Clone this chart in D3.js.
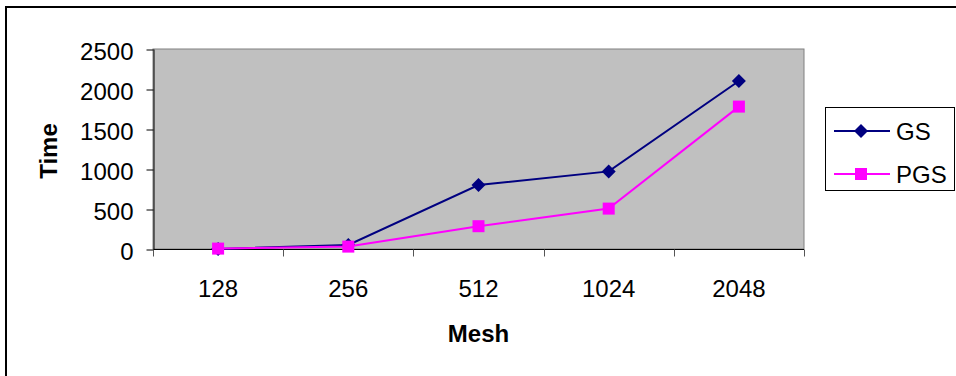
<!DOCTYPE html>
<html>
<head>
<meta charset="utf-8">
<script src="https://cdn.jsdelivr.net/npm/d3@7"></script>
<style>
  html, body { margin: 0; padding: 0; background: #fff; }
  svg { display: block; font-family: "Liberation Sans", Arial, sans-serif; }
</style>
</head>
<body>
<svg id="chart" width="956" height="376"></svg>
<script>
// Mesh sizes and solver run times
const meshSizes = ["128", "256", "512", "1024", "2048"];
const gsTimes   = [1, 50, 800, 970, 2100];
const pgsTimes  = [5, 30, 285, 505, 1780];
const yTicks    = [0, 500, 1000, 1500, 2000, 2500];
const seriesNames  = ["GS", "PGS"];
const seriesColors = ["#000080", "#FF00FF"];

const svg = d3.select("#chart");
const W = 956, H = 376;

// Outer frame
svg.append("rect")
  .attr("x", 6).attr("y", 7)
  .attr("width", W + 10).attr("height", H + 10)
  .attr("fill", "#fff").attr("stroke", "#000").attr("stroke-width", 2);

const plot = { left: 153, top: 49, right: 804, bottom: 249 };

const x = d3.scaleBand().domain(meshSizes).range([plot.left, plot.right]).padding(0);
const y = d3.scaleLinear().domain([0, 2500]).range([plot.bottom, plot.top]);

// Plot area
svg.append("rect")
  .attr("x", plot.left).attr("y", plot.top)
  .attr("width", plot.right - plot.left).attr("height", plot.bottom - plot.top)
  .attr("fill", "#C0C0C0").attr("stroke", "#808080").attr("stroke-width", 1);

// Y axis
const yAxis = svg.append("g")
  .attr("transform", `translate(${plot.left + 0.5},0)`)
  .call(d3.axisLeft(y).tickValues(yTicks).tickFormat(d3.format("d"))
    .tickSize(7).tickSizeOuter(0).tickPadding(13));
yAxis.select(".domain").attr("stroke", "#000");
yAxis.selectAll(".tick line").attr("stroke", "#000").attr("transform", "translate(0,0.5)");
yAxis.selectAll(".tick text")
  .attr("font-size", 24).attr("fill", "#000")
  .attr("font-family", "Liberation Sans, Arial, sans-serif")
  .attr("dy", "0.45em");

// X axis with ticks on category boundaries
const xAxisG = svg.append("g").attr("transform", `translate(0,${plot.bottom + 0.5})`);
xAxisG.append("line")
  .attr("x1", plot.left).attr("x2", plot.right)
  .attr("stroke", "#000");
const bounds = meshSizes.map(d => x(d)).concat([plot.right]);
xAxisG.selectAll("line.tick").data(bounds).join("line")
  .attr("class", "tick")
  .attr("x1", d => Math.round(d) + 0.5).attr("x2", d => Math.round(d) + 0.5)
  .attr("y1", 0).attr("y2", 7)
  .attr("stroke", "#555");
xAxisG.selectAll("text").data(meshSizes).join("text")
  .attr("x", d => x(d) + x.bandwidth() / 2)
  .attr("y", 47)
  .attr("text-anchor", "middle")
  .attr("font-size", 24)
  .text(d => d);

// Axis titles
svg.append("text")
  .attr("x", (plot.left + plot.right) / 2).attr("y", 342)
  .attr("text-anchor", "middle").attr("font-size", 24).attr("font-weight", "bold")
  .text("Mesh");
svg.append("text")
  .attr("transform", `translate(57,${(plot.top + plot.bottom) / 2 + 2}) rotate(-90)`)
  .attr("text-anchor", "middle").attr("font-size", 24).attr("font-weight", "bold")
  .text("Time");

// Series
const cx = d => x(d) + x.bandwidth() / 2;
const line = d3.line().x(d => cx(d[0])).y(d => y(d[1]));
const seriesData = [gsTimes, pgsTimes].map(vals => meshSizes.map((m, i) => [m, vals[i]]));

const diamond = (g, size) => g.append("path")
  .attr("d", `M0,${-size}L${size},0L0,${size}L${-size},0Z`);
const square = (g, size) => g.append("rect")
  .attr("x", -size).attr("y", -size).attr("width", 2 * size).attr("height", 2 * size);

seriesData.forEach((data, si) => {
  const color = seriesColors[si];
  svg.append("path").datum(data)
    .attr("d", line).attr("fill", "none")
    .attr("stroke", color).attr("stroke-width", 2);
  data.forEach(d => {
    const g = svg.append("g").attr("transform", `translate(${cx(d[0])},${y(d[1])})`).attr("fill", color);
    if (si === 0) diamond(g, 7); else square(g, 6);
  });
});

// Legend
const legend = svg.append("g");
legend.append("rect")
  .attr("x", 825.5).attr("y", 107.5).attr("width", 129).attr("height", 83)
  .attr("fill", "#fff").attr("stroke", "#000").attr("stroke-width", 1);
const legendY = [131, 174];
seriesNames.forEach((name, i) => {
  const ly = legendY[i];
  legend.append("line")
    .attr("x1", 834).attr("x2", 890).attr("y1", ly).attr("y2", ly)
    .attr("stroke", seriesColors[i]).attr("stroke-width", 2);
  const g = legend.append("g").attr("transform", `translate(861,${ly})`).attr("fill", seriesColors[i]);
  if (i === 0) diamond(g, 7); else square(g, 6);
  legend.append("text")
    .attr("x", 896).attr("y", ly + 9)
    .attr("font-size", 24).text(name);
});
</script>
</body>
</html>
